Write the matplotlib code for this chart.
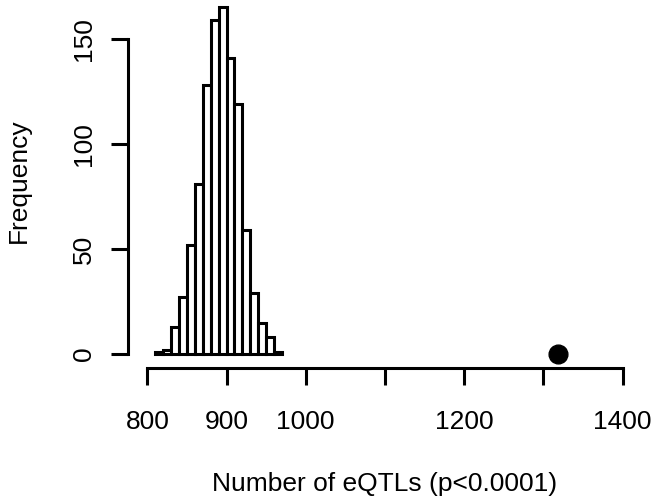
import numpy as np
import matplotlib
matplotlib.use('Agg')
import matplotlib.pyplot as plt

# histogram of permuted eQTL counts (bins of width 10)
bin_edges = list(range(810, 980, 10))
counts = [1, 2, 13, 27, 52, 81, 128, 159, 165, 141, 119, 59, 29, 15, 8, 1]
observed = 1318

xticks = [800, 900, 1000, 1100, 1200, 1300, 1400]
xticklabels = ['800', '900', '1000', '', '1200', '', '1400']
yticks = [0, 50, 100, 150]

plt.rcParams['font.family'] = ['Liberation Sans', 'DejaVu Sans']

fig = plt.figure(figsize=(6.58, 5.04), dpi=100)
ax = fig.add_axes([0.195, 0.270, 0.780, 0.7427])

ax.bar(bin_edges[:-1], counts, width=10, align='edge', color='white',
       edgecolor='black', linewidth=2.2)
ax.plot([observed], [0], 'o', color='black', markersize=13.5)

ax.set_xlim(776, 1424)
ax.set_ylim(-6.6, 171.6)

for s in ['top', 'right']:
    ax.spines[s].set_visible(False)
ax.spines['left'].set_bounds(0, 150)
ax.spines['bottom'].set_bounds(800, 1400)
ax.spines['left'].set_linewidth(2.2)
ax.spines['bottom'].set_linewidth(2.2)

ax.set_xticks(xticks)
ax.set_xticklabels(xticklabels)
ax.set_yticks(yticks)
ax.set_yticklabels([str(v) for v in yticks], rotation=90, va='center')
ax.tick_params(axis='both', length=12, width=2.2, labelsize=19)
ax.tick_params(axis='x', pad=18)
ax.tick_params(axis='y', pad=11)

ax.set_xlabel('Number of eQTLs (p<0.0001)', fontsize=19, labelpad=28)
ax.set_ylabel('Frequency', fontsize=19, labelpad=30)

fig.savefig('out.png', dpi=100)
